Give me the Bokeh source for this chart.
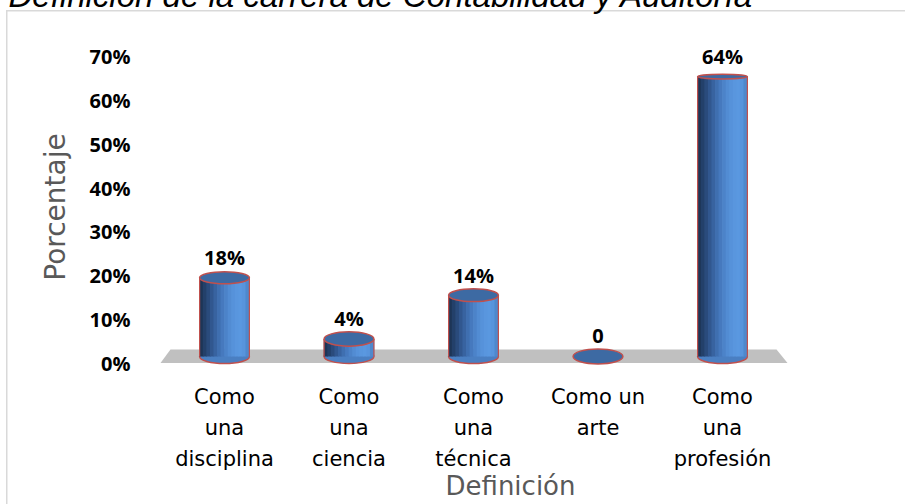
from bokeh.plotting import figure
from bokeh.models import (Range1d, FixedTicker, PrintfTickFormatter, Label,
                          ColumnDataSource)
from bokeh.core.properties import value
from bokeh.embed import file_html
from bokeh.resources import INLINE

# ---------------- data ----------------
title_text = "Definición de la carrera de Contabilidad y Auditoría"
categories = ["Como\nuna\ndisciplina", "Como\nuna\nciencia", "Como\nuna\ntécnica",
              "Como un\narte", "Como\nuna\nprofesión"]
percent = [18, 4, 14, 0, 64]
value_labels = ["18%", "4%", "14%", "0", "64%"]
y_ticks = [0, 10, 20, 30, 40, 50, 60, 70]
y_title = "Porcentaje"
x_title = "Definición"

# ---------------- geometry / style ----------------
W = 0.40          # cylinder width (category units)
BASE = 1.5        # depth offset of cylinder base above floor front edge
N = 14            # gradient strips
grad = ["#1d3557", "#23406a", "#2a4b7c", "#31578f", "#3863a0", "#3f6fb0", "#4679be",
        "#4c83c9", "#528cd3", "#5692da", "#5996de", "#5a98e0", "#5894dc", "#4f88cc"]
RED = "#c0504d"
WIDTH, HEIGHT = 905, 504
FRAME_L, FRAME_R, FRAME_T, FRAME_B = 140, 880, 46, 368
X0_PX, X_STEP = 224.0, 124.5      # pixel of first category, pixels per category
Y0_PX, Y_STEP = 363.5, 4.386      # pixel of 0 %, pixels per percent


def px_x(px):
    return (px - X0_PX) / X_STEP


def px_y(py):
    return (Y0_PX - py) / Y_STEP


xs = list(range(len(categories)))

# light grey chart-area frame (top and left edges) drawn behind a transparent canvas border
frame_css = {
    "background-image": "linear-gradient(#d9d9d9, #d9d9d9), linear-gradient(#d9d9d9, #d9d9d9)",
    "background-size": "2000px 1.5px, 1.5px 2000px",
    "background-position": "6px 10px, 6px 10px",
    "background-repeat": "no-repeat",
    "background-color": "white",
}

p = figure(width=WIDTH, height=HEIGHT, output_backend="svg", toolbar_location=None,
           x_range=Range1d(px_x(FRAME_L), px_x(FRAME_R)),
           y_range=Range1d(px_y(FRAME_B), px_y(FRAME_T)),
           min_border_left=FRAME_L, min_border_right=WIDTH - FRAME_R,
           min_border_top=FRAME_T, min_border_bottom=HEIGHT - FRAME_B,
           styles=frame_css)
p.outline_line_color = None
p.xgrid.visible = False
p.ygrid.visible = False
p.background_fill_color = "white"
p.border_fill_color = None

# floor
fl = xs[0] - 0.5
fr = xs[-1] + 0.5
p.patch([fl - 0.014, fl + 0.066, fr - 0.066, fr + 0.022], [0, 3.08, 3.08, 0],
        fill_color="#c0c0c0", line_color=None)

# bottom ellipses
bot = ColumnDataSource(dict(x=[x for x, v in zip(xs, percent) if v > 0],
                            y=[BASE for v in percent if v > 0]))
p.ellipse(x="x", y="y", width=W, height=14, height_units="screen", source=bot,
          fill_color="#4a7fc2", line_color=RED, line_width=1.5)

# body strips (horizontal gradient)
sx, sc, stop, sbot = [], [], [], []
for x, v in zip(xs, percent):
    if v <= 0:
        continue
    for k in range(N):
        sx.append(x - W / 2 + (k + 0.5) * W / N)
        sc.append(grad[k])
        stop.append(v + BASE)
        sbot.append(BASE)
p.vbar(x=sx, width=W / N * 1.2, top=stop, bottom=sbot, fill_color=sc, line_color=None)

# side edges
ex0, ey0, ey1 = [], [], []
for x, v in zip(xs, percent):
    if v <= 0:
        continue
    for side in (-1, 1):
        ex0.append(x + side * W / 2)
        ey0.append(BASE)
        ey1.append(v + BASE)
p.segment(x0=ex0, y0=ey0, x1=ex0, y1=ey1, line_color=RED, line_width=1.2)

# top caps
top = ColumnDataSource(dict(x=xs, y=[v + BASE for v in percent],
                            h=[15 - 0.16 * v for v in percent],
                            lab=value_labels))
p.ellipse(x="x", y="y", width=W, height="h", height_units="screen", source=top,
          fill_color="#3d6aa3", line_color=RED, line_width=1.5)

# value labels
p.text(x="x", y="y", text="lab", source=top, y_offset=-20,
       text_align="center", text_baseline="middle",
       text_font=value("Open Sans"), text_font_style="bold",
       text_font_size="20px", text_color="black")

# axes
p.yaxis.ticker = FixedTicker(ticks=y_ticks)
p.yaxis.formatter = PrintfTickFormatter(format="%d%%")
p.yaxis.axis_line_color = None
p.yaxis.major_tick_line_color = None
p.yaxis.minor_tick_line_color = None
p.yaxis.major_tick_in = 0
p.yaxis.major_tick_out = 0
p.yaxis.major_label_standoff = 10
p.yaxis.major_label_text_font = "Open Sans"
p.yaxis.major_label_text_font_style = "bold"
p.yaxis.major_label_text_font_size = "20px"
p.yaxis.major_label_text_color = "black"
p.yaxis.axis_label = y_title
p.yaxis.axis_label_text_font = "DejaVu Sans"
p.yaxis.axis_label_text_font_style = "normal"
p.yaxis.axis_label_text_font_size = "28px"
p.yaxis.axis_label_text_color = "#595959"
p.yaxis.axis_label_standoff = 15

p.xaxis.ticker = FixedTicker(ticks=xs)
p.xaxis.major_label_overrides = {x: c for x, c in zip(xs, categories)}
p.xaxis.axis_line_color = None
p.xaxis.major_tick_line_color = None
p.xaxis.minor_tick_line_color = None
p.xaxis.major_tick_in = 0
p.xaxis.major_tick_out = 0
p.xaxis.major_label_standoff = 17
p.xaxis.major_label_text_font = "DejaVu Sans"
p.xaxis.major_label_text_font_size = "21px"
p.xaxis.major_label_text_line_height = 1.306
p.xaxis.major_label_text_color = "black"
p.xaxis.axis_label = x_title
p.xaxis.axis_label_text_font = "DejaVu Sans"
p.xaxis.axis_label_text_font_style = "normal"
p.xaxis.axis_label_text_font_size = "26px"
p.xaxis.axis_label_text_color = "#595959"
p.xaxis.axis_label_standoff = -3

# chart title in the top panel; only its lower part shows at the top edge.
TITLE_BASELINE_SHIFT = 12   # empirical correction of the panel's vertical origin
p.add_layout(Label(x=8 - FRAME_L, y=FRAME_T - 6.5 + TITLE_BASELINE_SHIFT,
                   x_units="screen", y_units="screen",
                   text=title_text, text_font="Liberation Sans", text_font_style="italic",
                   text_font_size="33px", text_color="black",
                   text_baseline="alphabetic"), "above")

open("out.html", "w").write(file_html(p, INLINE))
